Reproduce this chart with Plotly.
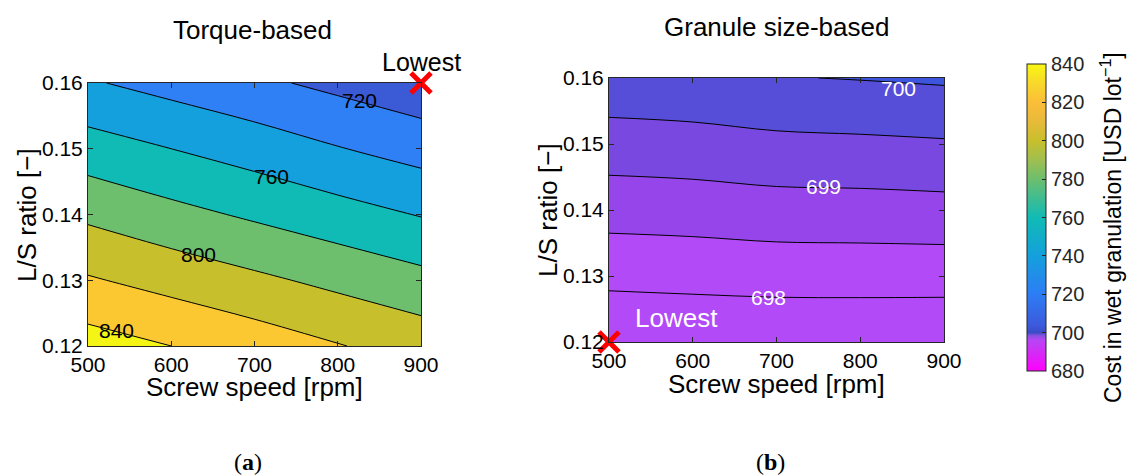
import plotly.graph_objects as go

W, H = 1129, 475

# ---------------- data ----------------
speed = [500, 600, 700, 800, 900]            # Screw speed [rpm]
ls_ratio = [0.12, 0.13, 0.14, 0.15, 0.16]     # L/S ratio [-]

# (a) Torque-based cost, rows = ls_ratio, cols = speed
cost_torque = [
    [849, 840, 831, 821, 812],
    [822, 813, 804, 795, 786],
    [796, 786, 777, 768, 759],
    [769, 760, 751, 741, 732],
    [742, 733, 724, 715, 706],
]

# (b) Granule size-based cost
cost_granule = [
    [697.55, 697.58, 697.60, 697.59, 697.58],
    [698.13, 698.16, 698.19, 698.20, 698.20],
    [698.70, 698.73, 698.79, 698.80, 698.83],
    [699.27, 699.31, 699.38, 699.41, 699.45],
    [699.84, 699.88, 699.98, 700.02, 700.07],
]

levels_a = dict(start=720, end=840, size=20)
levels_b = dict(start=698, end=700, size=0.5)

band_colors_a = ['#3A5AD6', '#2F7FF5', '#14A0DC', '#10BBB5',
                 '#6DBE6D', '#C8BF2C', '#FBC832', '#F5F515']
band_colors_b = ['#B24AF8', '#B24AF8', '#9645EA', '#7848E0', '#564DD8', '#3C55DC']

cbar_ticks = [680, 700, 720, 740, 760, 780, 800, 820, 840]
cbar_scale = [
    [0.0, '#FF00FF'], [0.0625, '#D22DF5'], [0.10, '#B845F5'],
    [0.115, '#8A50E0'], [0.125, '#3C4BC8'], [0.15, '#3C5ADC'],
    [0.25, '#2D7DF5'], [0.375, '#14A0DC'], [0.5, '#10BBB5'],
    [0.625, '#6DBE6D'], [0.6875, '#A0BF50'], [0.75, '#C8BF2C'],
    [0.8125, '#E8BA3A'], [0.875, '#FBBE38'], [0.9375, '#F8D82A'],
    [1.0, '#F8F814'],
]

lowest_a = (900, 0.16)
lowest_b = (500, 0.12)


def knot_scale(colors):
    n = len(colors)
    return [[i / (n - 1), c] for i, c in enumerate(colors)]


def px(x):
    return x / W


def py(y):
    return 1 - y / H


FONT = "Liberation Sans, Arial, sans-serif"
AX = '#262626'

fig = go.Figure()

fig.add_trace(go.Contour(
    x=speed, y=ls_ratio, z=cost_torque, autocontour=False,
    contours=dict(coloring='fill', showlabels=False, **levels_a),
    colorscale=knot_scale(band_colors_a), showscale=False,
    line=dict(color='black', width=1), xaxis='x', yaxis='y', hoverinfo='skip'))

fig.add_trace(go.Contour(
    x=speed, y=ls_ratio, z=cost_granule, autocontour=False,
    contours=dict(coloring='fill', showlabels=False, **levels_b),
    colorscale=knot_scale(band_colors_b), showscale=False,
    line=dict(color='black', width=1), xaxis='x2', yaxis='y2', hoverinfo='skip'))

# Lowest markers
for (xv, yv), xa, ya in [(lowest_a, 'x', 'y'), (lowest_b, 'x2', 'y2')]:
    fig.add_trace(go.Scatter(
        x=[xv], y=[yv], mode='markers', xaxis=xa, yaxis=ya, cliponaxis=False,
        marker=dict(symbol='x-thin', size=20, line=dict(color='#FF0000', width=5)),
        showlegend=False, hoverinfo='skip'))

# Colorbar (shared)
fig.add_trace(go.Scatter(
    x=[None], y=[None], mode='markers', showlegend=False, xaxis='x', yaxis='y',
    marker=dict(color=[680], cmin=680, cmax=840, colorscale=cbar_scale, showscale=True,
                colorbar=dict(x=px(1027), xanchor='left', y=py(217.5), yanchor='middle',
                              len=307 / H, lenmode='fraction', thickness=19, thicknessmode='pixels',
                              ypad=0, xpad=0, outlinewidth=1, outlinecolor=AX,
                              tickvals=cbar_ticks, ticks='inside', ticklen=4, tickcolor=AX,
                              tickfont=dict(family=FONT, size=20, color=AX)))))

axis_common = dict(showgrid=False, zeroline=False, showline=True, linecolor=AX, linewidth=1,
                   mirror='ticks', ticks='inside', ticklen=5, tickcolor=AX, automargin=False,
                   tickfont=dict(family=FONT, size=21, color='black'))

fig.update_layout(
    width=W, height=H, margin=dict(l=0, r=0, t=0, b=0, autoexpand=False),
    paper_bgcolor='white', plot_bgcolor='white', showlegend=False,
    xaxis=dict(domain=[px(88), px(421)], range=[500, 900], tickvals=speed, anchor='y', **axis_common),
    yaxis=dict(domain=[py(346), py(83)], range=[0.12, 0.16], tickvals=ls_ratio, tickformat='.2f',
               anchor='x', **axis_common),
    xaxis2=dict(domain=[px(609), px(944)], range=[500, 900], tickvals=speed, anchor='y2', **axis_common),
    yaxis2=dict(domain=[py(342), py(78)], range=[0.12, 0.16], tickvals=ls_ratio, tickformat='.2f',
                anchor='x2', **axis_common),
)

ann = []


def paper_text(text, x, y, size, angle=0, family=FONT, color='black'):
    ann.append(dict(text=text, x=px(x), y=py(y), xref='paper', yref='paper', showarrow=False,
                    xanchor='center', yanchor='middle', textangle=angle,
                    font=dict(family=family, size=size, color=color)))


def data_text(text, x, y, xa, ya, size, color='black'):
    ann.append(dict(text=text, x=x, y=y, xref=xa, yref=ya, showarrow=False,
                    xanchor='center', yanchor='middle',
                    font=dict(family=FONT, size=size, color=color)))


paper_text('Torque-based', 253, 30, 26)
paper_text('Granule size-based', 776, 27, 26)
paper_text('Screw speed [rpm]', 254, 387, 26)
paper_text('Screw speed [rpm]', 776, 384, 26)
paper_text('L/S ratio [\u2212]', 27, 215, 26, angle=-90)
paper_text('L/S ratio [\u2212]', 548, 210, 26, angle=-90)
paper_text('Cost in wet granulation [USD lot<sup>\u22121</sup>]', 1111, 228, 23, angle=-90)
paper_text('Lowest', 422, 62, 25)
paper_text('(<b>a</b>)', 248, 462, 24, family='Liberation Serif, serif')
paper_text('(<b>b</b>)', 770, 462, 24, family='Liberation Serif, serif')

data_text('720', 826, 0.1573, 'x', 'y', 21)
data_text('760', 720, 0.1458, 'x', 'y', 21)
data_text('800', 633, 0.1339, 'x', 'y', 21)
data_text('840', 534, 0.1224, 'x', 'y', 21)
data_text('700', 846, 0.1584, 'x2', 'y2', 21, color='white')
data_text('699', 756, 0.1435, 'x2', 'y2', 21, color='white')
data_text('698', 690, 0.1268, 'x2', 'y2', 21, color='white')
data_text('Lowest', 581, 0.1237, 'x2', 'y2', 26, color='white')

fig.update_layout(annotations=ann)

fig.write_html("out.html")
